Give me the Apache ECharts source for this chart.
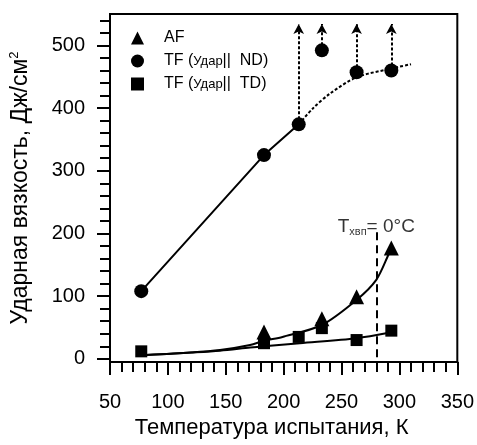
<!DOCTYPE html>
<html><head><meta charset="utf-8">
<script src="https://cdn.jsdelivr.net/npm/echarts@6/dist/echarts.min.js"></script>
<style>html,body{margin:0;padding:0;background:#fff}#c{width:477px;height:445px}</style>
</head><body><div id="c"></div>
<script>
// --- data ---
const afT = [183, 233, 263, 293];
const afV = [43, 64, 99, 177];
const ndT = [77, 183, 213, 233, 263, 293];
const ndV = [108, 325, 374, 492, 457, 460];
const tdT = [77, 183, 213, 233, 263, 293];
const tdV = [12, 25, 35, 49, 30, 45];
// fitted curves
const afFitT = [81, 120, 145, 171, 183, 199, 233, 263, 280, 291, 294];
const afFitV = [6, 10, 14, 22, 29, 35, 54, 94, 126, 168, 179];
const tdFitT = [81, 120, 145, 171, 183, 214, 263, 292];
const tdFitV = [6, 10, 13, 18, 20, 25, 33, 42];
const ndSolidT = [77, 183, 213];
const ndSolidV = [108, 325, 374];
const ndDashT = [213, 225, 240, 263, 293, 310];
const ndDashV = [374, 399, 423, 449, 463, 470];
// arrows: x, start, end
const arrowT = [213, 233, 263, 293];
const arrowFrom = [374, 492, 457, 460];
const arrowTo = 534;
// T_hvp line
const tLineT = 280;
const tLineTop = 202;
const tLabelV = 210;
// axes
const xTicks = [50, 100, 150, 200, 250, 300, 350];
const yTicks = [0, 100, 200, 300, 400, 500];
const yMinor = [20,40,60,80,120,140,160,180,220,240,260,280,320,340,360,380,420,440,460,480,520,540];

const FF = "'Liberation Sans', Arial, sans-serif";
const zip = (a, b) => a.map((v, i) => [v, b[i]]);
const chart = echarts.init(document.getElementById('c'), null, {renderer: 'canvas'});
const gridRect = {left: 110, right: 19, top: 14, bottom: 83};
const names = ['AF', 'TF (Удар|| ND)', 'TF (Удар|| TD)'];
const black = {color: '#000', opacity: 1};

chart.setOption({
  animation: false,
  backgroundColor: '#fff',
  grid: [
    Object.assign({show: true, borderColor: '#000', borderWidth: 2, backgroundColor: 'transparent'}, gridRect),
    Object.assign({show: false}, gridRect)
  ],
  legend: {
    orient: 'vertical', left: 126, top: 25, itemWidth: 13, itemHeight: 13, itemGap: 7,
    selectedMode: false,
    data: [
      {name: names[0], icon: 'triangle', itemStyle: black},
      {name: names[1], icon: 'circle', itemStyle: black},
      {name: names[2], icon: 'rect', itemStyle: black}
    ],
    formatter: function (n) {
      if (n === 'AF') return '{g|}AF';
      const tail = n.indexOf('ND') >= 0 ? 'ND)' : 'TD)';
      return '{g|}TF ({s|Удар}||  ' + tail;
    },
    textStyle: {fontFamily: FF, fontSize: 16, color: '#000',
      rich: {g: {width: 15}, s: {fontSize: 13, fontFamily: FF, color: '#000'}}}
  },
  xAxis: [
    {gridIndex: 0, type: 'value', min: 50, max: 350, interval: 50,
     name: 'Температура испытания, К', nameLocation: 'middle', nameGap: 45,
     nameTextStyle: {fontFamily: FF, fontSize: 22, color: '#000', padding: [0, 24, 0, 0]},
     axisLine: {show: true, onZero: false, lineStyle: {color: '#000', width: 2}},
     axisTick: {show: true, inside: false, length: 13, lineStyle: {color: '#000', width: 2}},
     minorTick: {show: true, splitNumber: 5, length: 10, lineStyle: {color: '#000', width: 2}},
     axisLabel: {margin: 30, fontFamily: FF, fontSize: 20, color: '#000'},
     splitLine: {show: false}, minorSplitLine: {show: false}},
    {gridIndex: 1, type: 'value', min: 50, max: 350, show: false}
  ],
  yAxis: [
    {gridIndex: 0, type: 'value', min: -5, max: 550,
     name: 'Ударная вязкость, Дж/см{sup|2}', nameLocation: 'middle', nameGap: 77,
     nameTextStyle: {fontFamily: FF, fontSize: 23, color: '#000',
       rich: {sup: {fontSize: 13, fontFamily: FF, color: '#000', verticalAlign: 'top', padding: [0, 0, 12, 0]}}},
     axisLine: {show: true, onZero: false, lineStyle: {color: '#000', width: 2}},
     axisTick: {show: true, inside: false, length: 13, customValues: yTicks, lineStyle: {color: '#000', width: 2}},
     axisLabel: {margin: 25, customValues: yTicks, fontFamily: FF, fontSize: 20, color: '#000'},
     splitLine: {show: false}},
    {gridIndex: 1, type: 'value', min: -5, max: 550,
     axisLine: {show: false},
     axisTick: {show: true, inside: false, length: 10, customValues: yMinor, lineStyle: {color: '#000', width: 2}},
     axisLabel: {show: false}, splitLine: {show: false}}
  ],
  series: [
    {name: 'afFit', type: 'line', data: zip(afFitT, afFitV), smooth: 0.3, symbol: 'none',
     lineStyle: {color: '#000', width: 2}, z: 2, silent: true},
    {name: 'tdFit', type: 'line', data: zip(tdFitT, tdFitV), smooth: 0.3, symbol: 'none',
     lineStyle: {color: '#000', width: 2}, z: 2, silent: true},
    {name: 'ndSolid', type: 'line', data: zip(ndSolidT, ndSolidV), symbol: 'none',
     lineStyle: {color: '#000', width: 2}, z: 2, silent: true},
    {name: 'ndDash', type: 'line', data: zip(ndDashT, ndDashV), smooth: 0.3, symbol: 'none',
     lineStyle: {color: '#000', width: 2, type: [3, 2]}, z: 2, silent: true,
     markLine: {
       silent: true, animation: false, label: {show: false},
       data: arrowT.map((t, i) => [
         {coord: [t, arrowFrom[i]], symbol: 'none', lineStyle: {color: '#000', width: 2, type: [3, 2]}},
         {coord: [t, arrowTo], symbol: 'arrow', symbolSize: [8, 10]}
       ]).concat([[
         {coord: [tLineT, tLineTop], symbol: 'none', lineStyle: {color: '#000', width: 2, type: [8, 5]}},
         {coord: [tLineT, -5], symbol: 'none'}
       ]])
     }},
    {name: names[0], type: 'scatter', data: zip(afT, afV), symbol: 'triangle', symbolSize: 15,
     itemStyle: black, z: 3},
    {name: names[1], type: 'scatter', data: zip(ndT, ndV), symbol: 'circle', symbolSize: 14,
     itemStyle: black, z: 3},
    {name: names[2], type: 'scatter', data: zip(tdT, tdV), symbol: 'rect', symbolSize: 12,
     itemStyle: black, z: 3},
    {name: 'tlabel', type: 'scatter', data: [[tLineT, tLabelV]], symbolSize: 0, silent: true, z: 4,
     label: {show: true, position: 'inside', formatter: '{t|T}{sub|хвп}{t|= 0°C}',
       rich: {t: {fontFamily: FF, fontSize: 19, color: '#000'},
              sub: {fontFamily: FF, fontSize: 11, color: '#000', padding: [9, 0, 0, 0]}}}}
  ]
});
</script></body></html>
